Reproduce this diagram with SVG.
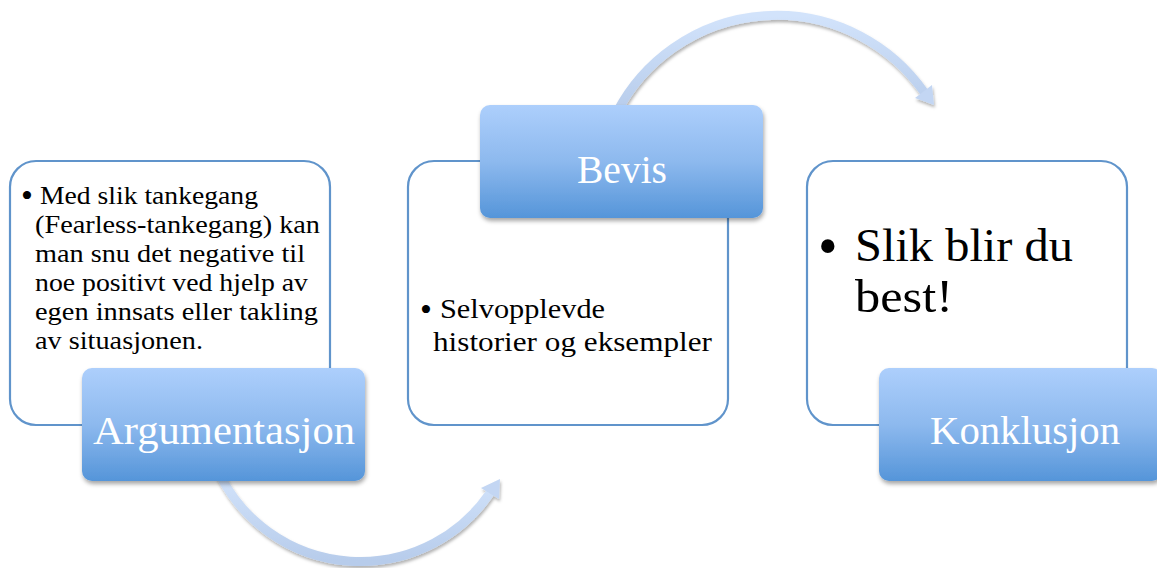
<svg xmlns="http://www.w3.org/2000/svg" width="1157" height="568" viewBox="0 0 1157 568">
<defs>
<linearGradient id="lblGrad" x1="0" y1="0" x2="0" y2="1">
<stop offset="0" stop-color="#ADCFFC"/>
<stop offset="0.5" stop-color="#8DB9EE"/>
<stop offset="1" stop-color="#5595D9"/>
</linearGradient>
<linearGradient id="arcGrad" x1="0" y1="0" x2="0" y2="1">
<stop offset="0" stop-color="#D2E3FB"/>
<stop offset="1" stop-color="#B7CCEB"/>
</linearGradient>
<filter id="shadow" x="-10%" y="-10%" width="125%" height="130%">
<feDropShadow dx="1" dy="3" stdDeviation="2.2" flood-color="#000" flood-opacity="0.35"/>
</filter>
<filter id="arcShadow" x="-10%" y="-10%" width="125%" height="130%">
<feDropShadow dx="1" dy="2.5" stdDeviation="1.8" flood-color="#000" flood-opacity="0.3"/>
</filter>
</defs>
<style>
.box{fill:#FFFFFF;stroke:#6094CB;stroke-width:2.2}
.lbl{fill:url(#lblGrad);filter:url(#shadow)}
.lbltxt{font-family:"Liberation Serif","DejaVu Serif",serif;fill:#FFFFFF;font-size:41px;text-anchor:middle}
.body{font-family:"Liberation Serif","DejaVu Serif",serif;fill:#000000}
.arc{fill:none;stroke:url(#arcGrad);stroke-width:9}
.head{fill:#C3D6F3}
</style>
<rect width="1157" height="568" fill="#FFFFFF"/>

<g id="connectors" filter="url(#arcShadow)">
<path class="arc" d="M 617 112 A 180 180 0 0 1 924 92"/>
<polygon class="head" points="934,105 915,98 932,85"/>
<path class="arc" d="M 220 475 A 157 157 0 0 0 490 493"/>
<polygon class="head" points="500,479 481,488 499,499"/>
</g>

<g id="node-argumentasjon">
<rect class="box" x="10" y="161" width="320" height="264" rx="26"/>
<g class="body" font-size="26">
<text x="21" y="207" font-size="34">•</text>
<text x="40" y="204" textLength="218" lengthAdjust="spacingAndGlyphs">Med slik tankegang</text>
<text x="35" y="233" textLength="285" lengthAdjust="spacingAndGlyphs">(Fearless-tankegang) kan</text>
<text x="35" y="262" textLength="270" lengthAdjust="spacingAndGlyphs">man snu det negative til</text>
<text x="35" y="291" textLength="273" lengthAdjust="spacingAndGlyphs">noe positivt ved hjelp av</text>
<text x="35" y="320" textLength="283" lengthAdjust="spacingAndGlyphs">egen innsats eller takling</text>
<text x="35" y="349" textLength="168" lengthAdjust="spacingAndGlyphs">av situasjonen.</text>
</g>
<rect class="lbl" x="82" y="368" width="283" height="113" rx="10"/>
<text class="lbltxt" x="224" y="444" textLength="262" lengthAdjust="spacingAndGlyphs">Argumentasjon</text>
</g>

<g id="node-bevis">
<rect class="box" x="408" y="161" width="320" height="264" rx="26"/>
<g class="body" font-size="27">
<text x="420" y="321" font-size="34">•</text>
<text x="440" y="318" textLength="165" lengthAdjust="spacingAndGlyphs">Selvopplevde</text>
<text x="433" y="351" textLength="279" lengthAdjust="spacingAndGlyphs">historier og eksempler</text>
</g>
<rect class="lbl" x="480" y="105" width="283" height="113" rx="10"/>
<text class="lbltxt" x="622" y="183" textLength="90" lengthAdjust="spacingAndGlyphs">Bevis</text>
</g>

<g id="node-konklusjon">
<rect class="box" x="807" y="161" width="320" height="264" rx="26"/>
<g class="body" font-size="47">
<text x="818" y="265" font-size="56">•</text>
<text x="855" y="261" textLength="218" lengthAdjust="spacingAndGlyphs">Slik blir du</text>
<text x="855" y="312" textLength="98" lengthAdjust="spacingAndGlyphs">best!</text>
</g>
<rect class="lbl" x="879" y="368" width="283" height="113" rx="10"/>
<text class="lbltxt" x="1025" y="444" textLength="190" lengthAdjust="spacingAndGlyphs">Konklusjon</text>
</g>
</svg>
